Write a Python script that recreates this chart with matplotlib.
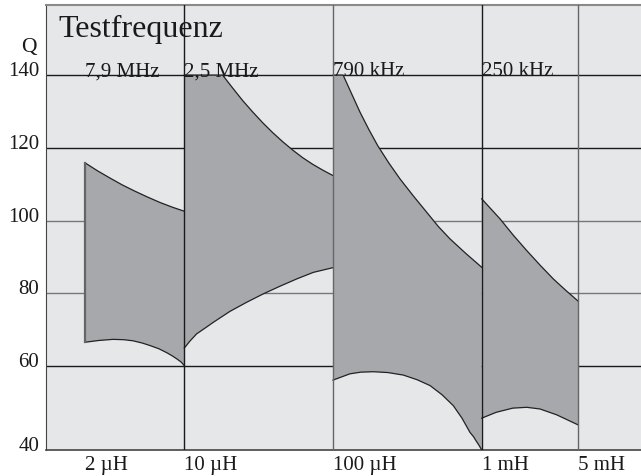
import numpy as np
import matplotlib
matplotlib.use("Agg")
from matplotlib import pyplot as plt

plt.rcParams['font.family'] = ['Liberation Serif', 'DejaVu Serif']

# inductance ranges in uH, Q
ranges = ["7,9 MHz", "2,5 MHz", "790 kHz", "250 kHz"]

up_x = [
    [2.15, 2.61, 3.17, 3.84, 4.66, 5.66, 6.87, 8.33, 10],
    [10, 18.1, 21.2, 24.7, 28.8, 33.7, 39.3, 45.9, 53.6, 62.6, 73.0, 85.3, 100],
    [100, 117, 134, 152, 174, 200, 237, 282, 347, 427, 511, 612, 782, 1000],
    [1000, 1328, 1624, 2007, 2467, 3030, 3690, 4450],
]
up_q = [
    [115.9, 113.7, 111.7, 109.8, 108.1, 106.5, 105.0, 103.7, 102.6],
    [140, 140, 136.4, 133.0, 129.9, 126.9, 124.2, 121.7, 119.4, 117.3, 115.5, 113.9, 112.4],
    [140, 140, 134.7, 129.8, 125.1, 120.6, 115.9, 111.5, 106.8, 102.3, 98.4, 95.0, 91.0, 87.2],
    [106.0, 100.5, 96.1, 91.8, 87.8, 84.0, 80.8, 77.9],
]
low_x = [
    [2.15, 2.67, 3.32, 3.93, 4.52, 5.20, 5.88, 6.76, 7.65, 8.27, 8.93, 9.50, 10],
    [10, 10.9, 12.1, 13.8, 15.7, 20.3, 26.3, 34.0, 44.0, 57.0, 73.7, 100],
    [100, 130, 154, 187, 234, 297, 367, 449, 541, 644, 737, 834, 880, 916, 960, 1000],
    [1000, 1250, 1616, 2007, 2466, 3194, 4450],
]
low_q = [
    [66.6, 67.1, 67.4, 67.3, 67.0, 66.4, 65.7, 64.8, 63.7, 62.9, 62.0, 61.2, 60.2],
    [65.0, 66.9, 68.9, 70.5, 72.1, 75.1, 77.6, 79.9, 82.0, 84.0, 85.8, 87.1],
    [56.7, 58.2, 58.6, 58.7, 58.5, 57.9, 56.8, 55.4, 53.2, 50.6, 47.6, 44.2, 43.2, 42.2, 41.1, 40.0],
    [47.6, 49.0, 50.0, 50.2, 49.8, 48.4, 46.0],
]

x_ticks = [2.15, 10, 100, 1000, 4450]
x_labels = ["2 µH", "10 µH", "100 µH", "1 mH", "5 mH"]
y_ticks = [40, 60, 80, 100, 120, 140]

# y axis is squeezed differently below 60
def fwd(y):
    y = np.asarray(y, dtype=float)
    return np.where(y < 60, 60 - (60 - y) * 1.15, y)

def inv(y):
    y = np.asarray(y, dtype=float)
    return np.where(y < 60, 60 - (60 - y) / 1.15, y)

fig = plt.figure(figsize=(6.41, 4.77), dpi=100)
ax = fig.add_axes([46/641, 26/477, 595/641, 445.5/477])
ax.set_facecolor('#e6e7e9')
ax.set_xscale('log')
ax.set_yscale('function', functions=(fwd, inv))
ax.set_xlim(1.175, 11780)
ax.set_ylim(40, 159.4)

# grid
hcol = {60: '#1a1a1a', 80: '#777777', 100: '#777777', 120: '#1a1a1a', 140: '#1a1a1a'}
for q in y_ticks[1:]:
    ax.axhline(q, color=hcol[q], lw=1.0, zorder=1)
vcol = ['#1a1a1a', '#666666', '#1a1a1a', '#666666']
for xv, c in zip(x_ticks[1:], vcol):
    ax.axvline(xv, color=c, lw=1.0, zorder=4)

fill_c = '#a7a8ac'
for i in range(4):
    px = list(up_x[i]) + list(low_x[i])[::-1]
    py = list(up_q[i]) + list(low_q[i])[::-1]
    ax.fill(px, py, facecolor=fill_c, edgecolor='none', zorder=2)
    ax.plot(up_x[i], up_q[i], color='#222222', lw=0.9, zorder=3)
    ax.plot(low_x[i], low_q[i], color='#222222', lw=0.9, zorder=3)
    ax.text(up_x[i][0], 140, ranges[i], fontsize=15, ha='left', va='baseline', color='#1a1a1a', zorder=5)

# left side of first band
ax.plot([up_x[0][0], low_x[0][0]], [up_q[0][0], low_q[0][0]], color='#666666', lw=1.6, zorder=3)

ax.set_xticks(x_ticks)
ax.set_xticklabels(x_labels)
ax.xaxis.set_minor_locator(matplotlib.ticker.NullLocator())
ax.set_yticks(y_ticks)
ax.set_yticklabels([str(v) for v in y_ticks])
ax.tick_params(axis='x', length=0, pad=3.5, labelsize=15, colors='#1a1a1a')
ax.tick_params(axis='y', length=0, pad=5, labelsize=15, colors='#1a1a1a')
plt.setp(ax.get_xticklabels(), ha='left')
plt.setp(ax.get_yticklabels(), va='baseline')

ax.spines['right'].set_visible(False)
ax.spines['top'].set_color('#8a8a8a')
ax.spines['top'].set_linewidth(1.5)
ax.spines['left'].set_color('#444444')
ax.spines['bottom'].set_color('#444444')
ax.spines['bottom'].set_linewidth(1.2)

fig.text(58/641, 1 - 36.7/477, "Testfrequenz", fontsize=23, ha='left', va='baseline', color='#1a1a1a')
fig.text(21.5/641, 1 - 51.7/477, "Q", fontsize=15.5, ha='left', va='baseline', color='#1a1a1a')

fig.savefig("out.png", dpi=100, facecolor='white')
